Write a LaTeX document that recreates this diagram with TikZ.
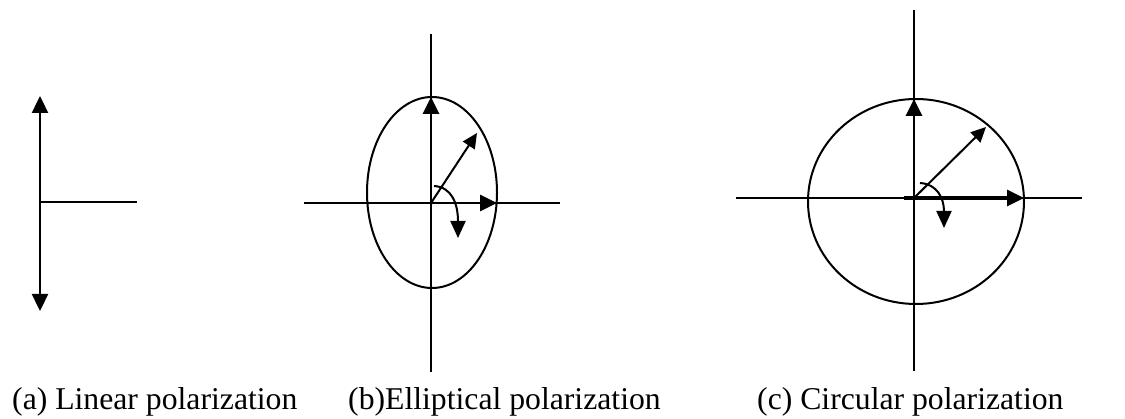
\documentclass[tikz,border=0pt]{standalone}
\usepackage{fontspec}
\setmainfont{Liberation Serif}
\usetikzlibrary{arrows.meta}

\begin{document}
\begin{tikzpicture}[x=1pt, y=-1pt,
  ax/.style={line width=2pt},
  rim/.style={line width=2pt},
  vec/.style={line width=2.8pt, -{Triangle[length=17pt,width=16pt]}},
  dvec/.style={line width=2pt, -{Triangle[length=15pt,width=14pt]}},
  rot/.style={line width=2pt, -{Triangle[length=17pt,width=15pt]}},
  lbl/.style={anchor=base west, inner sep=0pt, font=\fontsize{31.7}{36}\selectfont}]
\useasboundingbox (0,0) rectangle (1125,419);
% (a) linear
\coordinate (aO) at (40,202);
\coordinate (aT) at (40,96);
\coordinate (aB) at (40,311);
\coordinate (aR) at (137,202);
\draw[line width=2.4pt, {Triangle[length=17pt,width=16pt]}-{Triangle[length=17pt,width=16pt]}] (aT) -- (aB);
\draw[ax] (aO) -- (aR);
% (b) elliptical
\coordinate (bO) at (431,203);
\draw[ax] (431,34) -- (431,372);
\draw[ax] (304,203) -- (560,203);
\draw[rim] (432,192.5) ellipse [x radius=65, y radius=95.5];
\coordinate (bU) at (431,97);
\coordinate (bR) at (497,203);
\coordinate (bD) at (477,133);
\draw[vec] (bO) -- (bU);
\draw[vec] (bO) -- (bR);
\draw[dvec] (bO) -- (bD);
\coordinate (bs) at (434,186);
\coordinate (be) at (458,238);
\draw[rot] (bs) .. controls (452,187) and (458,204) .. (be);
% (c) circular
\coordinate (cO) at (914,198);
\draw[ax] (914,10) -- (914,371);
\draw[ax] (736,198) -- (1082,198);
\draw[rim] (916,201.5) ellipse [x radius=108, y radius=102.5];
\coordinate (cU) at (914,99);
\coordinate (cL) at (904,198);
\coordinate (cR) at (1024,198);
\coordinate (cD) at (986,127);
\draw[vec] (cO) -- (cU);
\draw[vec, line width=3.2pt] (cL) -- (cR);
\draw[dvec] (cO) -- (cD);
\coordinate (cs) at (920,183);
\coordinate (ce) at (944,228);
\draw[rot] (cs) .. controls (937,184) and (944,198) .. (ce);
% captions
\node[lbl] (la) at (12,410) {(a) Linear polarization};
\node[lbl] (lb) at (348,410) {(b)Elliptical polarization};
\node[lbl] (lc) at (757,410) {(c) Circular polarization};
\end{tikzpicture}
\end{document}
